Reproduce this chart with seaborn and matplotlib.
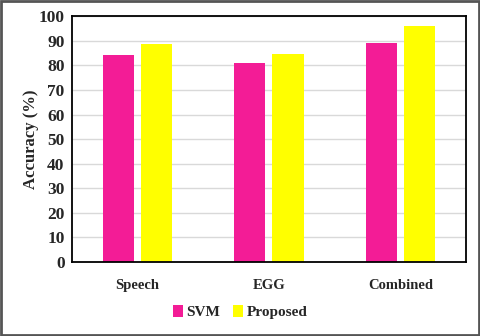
import pandas as pd
import matplotlib.pyplot as plt
import seaborn as sns
from matplotlib.patches import Rectangle

# data
categories = ['Speech', 'EGG', 'Combined']
svm = [84.1, 80.8, 89.1]
proposed = [88.5, 84.4, 95.9]
methods = ['SVM', 'Proposed']

df = pd.DataFrame({
    'feature': categories * 2,
    'method': [methods[0]] * 3 + [methods[1]] * 3,
    'acc': svm + proposed,
})

sns.set_style('white')
plt.rcParams['font.family'] = ['Liberation Serif', 'DejaVu Serif']
plt.rcParams['font.weight'] = 'bold'

fig = plt.figure(figsize=(4.8, 3.36), dpi=100)
ax = fig.add_axes([0.149, 0.22, 0.822, 0.732])

palette = {'SVM': '#F31C96', 'Proposed': '#FFFF00'}
sns.barplot(data=df, x='feature', y='acc', hue='method', palette=palette,
            width=0.58, gap=0.18, saturation=1, linewidth=0,
            ax=ax, zorder=2, legend=True)

ax.set_ylim(0, 100)
ax.set_yticks(range(0, 101, 10))
ax.yaxis.grid(True, color='#d9d9d9', linewidth=1, zorder=0)
ax.set_axisbelow(True)
for s in ax.spines.values():
    s.set_color('black')
    s.set_linewidth(1.3)
ax.tick_params(axis='both', length=0, pad=6)
ax.tick_params(axis='y', labelsize=12.5, pad=5)
ax.tick_params(axis='x', labelsize=10.5, pad=12)
for lab in ax.get_xticklabels() + ax.get_yticklabels():
    lab.set_fontweight('bold')
ax.set_xlabel('')
ax.set_ylabel('Accuracy (%)', fontsize=12, fontweight='bold', labelpad=0)

handles, labels = ax.get_legend_handles_labels()
ax.legend_.remove()
fig.legend(handles, labels, loc='center', bbox_to_anchor=(0.5, 0.072), ncol=2,
           frameon=False, prop={'weight': 'bold', 'size': 11},
           handlelength=0.7, handleheight=0.9, handletextpad=0.2, columnspacing=0.8)

# grey outer frame of the picture
fig.patches.append(Rectangle((0.002, 0.003), 0.996, 0.994, transform=fig.transFigure,
                             fill=False, edgecolor='#555555', linewidth=2))

fig.savefig('out.png', dpi=100)
